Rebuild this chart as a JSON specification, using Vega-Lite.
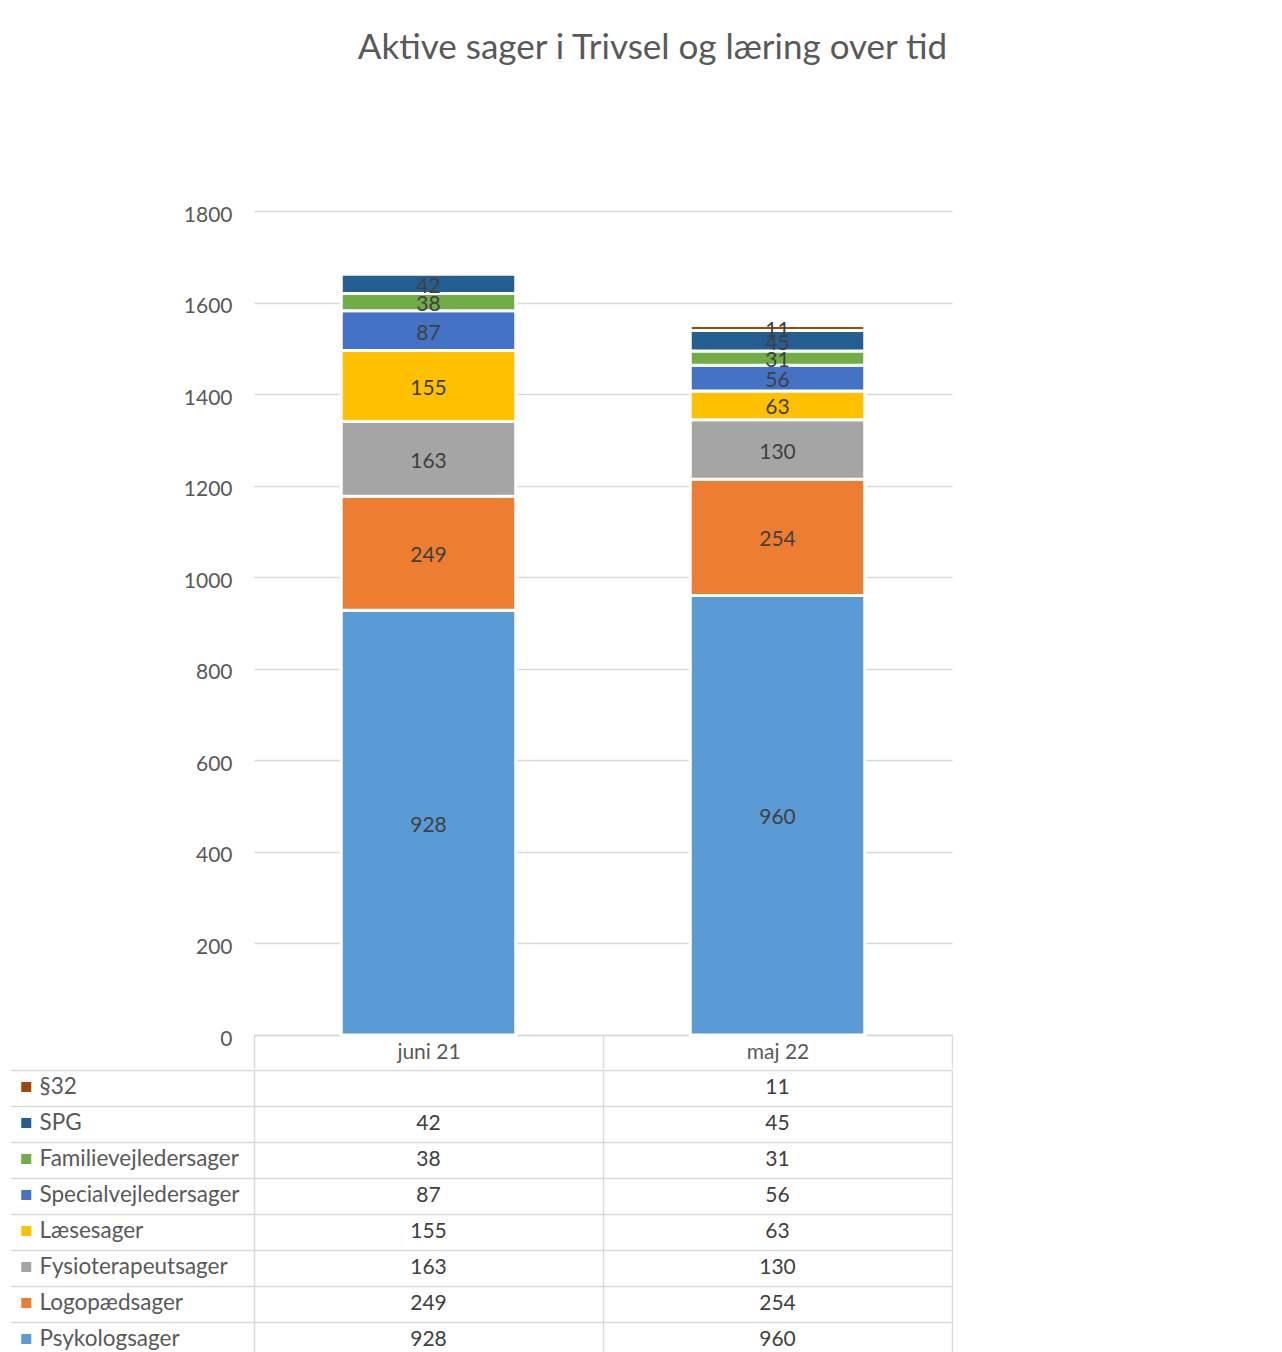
{
  "$schema": "https://vega.github.io/schema/vega-lite/v6.json",
  "padding": {"left": 10, "top": 31, "right": 0, "bottom": 0},
  "background": "white",
  "config": {
    "font": "Lato",
    "view": {"stroke": null},
    "concat": {"spacing": 0}
  },
  "title": {
    "text": "Aktive sager i Trivsel og læring over tid",
    "fontSize": 35,
    "fontWeight": "normal",
    "color": "#595959",
    "anchor": "middle",
    "dx": 171,
    "offset": 138
  },
  "datasets": {
    "cases": [
      {"period": "juni 21", "series": "Psykologsager", "count": 928},
      {"period": "juni 21", "series": "Logopædsager", "count": 249},
      {"period": "juni 21", "series": "Fysioterapeutsager", "count": 163},
      {"period": "juni 21", "series": "Læsesager", "count": 155},
      {"period": "juni 21", "series": "Specialvejledersager", "count": 87},
      {"period": "juni 21", "series": "Familievejledersager", "count": 38},
      {"period": "juni 21", "series": "SPG", "count": 42},
      {"period": "maj 22", "series": "Psykologsager", "count": 960},
      {"period": "maj 22", "series": "Logopædsager", "count": 254},
      {"period": "maj 22", "series": "Fysioterapeutsager", "count": 130},
      {"period": "maj 22", "series": "Læsesager", "count": 63},
      {"period": "maj 22", "series": "Specialvejledersager", "count": 56},
      {"period": "maj 22", "series": "Familievejledersager", "count": 31},
      {"period": "maj 22", "series": "SPG", "count": 45},
      {"period": "maj 22", "series": "§32", "count": 11}
    ]
  },
  "vconcat": [
    {
      "width": 698,
      "height": 824,
      "data": {"name": "cases"},
      "transform": [
        {
          "calculate": "indexof(['Psykologsager','Logopædsager','Fysioterapeutsager','Læsesager','Specialvejledersager','Familievejledersager','SPG','§32'], datum.series)",
          "as": "rank"
        }
      ],
      "encoding": {
        "x": {
          "field": "period",
          "type": "nominal",
          "sort": ["juni 21", "maj 22"],
          "scale": {"paddingInner": 0, "paddingOuter": 0},
          "axis": {
            "title": null,
            "labelAngle": 0,
            "labelFontSize": 21,
            "labelColor": "#595959",
            "labelPadding": -27,
            "domainColor": "#d9d9d9",
            "domainWidth": 1.5,
            "tickColor": "#d9d9d9",
            "tickWidth": 1.5,
            "tickSize": 33,
            "tickBand": "extent",
            "grid": false
          }
        },
        "y": {
          "field": "count",
          "type": "quantitative",
          "stack": "zero",
          "scale": {"domain": [0, 1800], "nice": false},
          "axis": {
            "title": null,
            "values": [0, 200, 400, 600, 800, 1000, 1200, 1400, 1600, 1800],
            "format": "d",
            "labelFontSize": 21,
            "labelColor": "#595959",
            "labelPadding": 22,
            "labelOffset": 4,
            "ticks": false,
            "domain": false,
            "gridColor": "#d9d9d9",
            "gridWidth": 1.5
          }
        },
        "order": {"field": "rank", "type": "quantitative"}
      },
      "layer": [
        {
          "mark": {"type": "bar", "width": {"band": 0.5}, "stroke": "white", "strokeWidth": 3},
          "encoding": {
            "color": {
              "field": "series",
              "type": "nominal",
              "scale": {
                "domain": ["§32", "SPG", "Familievejledersager", "Specialvejledersager", "Læsesager", "Fysioterapeutsager", "Logopædsager", "Psykologsager"],
                "range": ["#9E480E", "#255E91", "#70AD47", "#4472C4", "#FFC000", "#A5A5A5", "#ED7D31", "#5B9BD5"]
              },
              "legend": {
                "orient": "none",
                "legendX": -239,
                "legendY": 858,
                "title": null,
                "symbolType": "square",
                "symbolSize": 100,
                "symbolStrokeWidth": 0,
                "labelFontSize": 22.5,
                "labelColor": "#595959",
                "labelOffset": 2,
                "labelLimit": 300,
                "clipHeight": 36,
                "rowPadding": 0,
                "padding": 0
              }
            }
          }
        },
        {
          "mark": {"type": "text", "fontSize": 21, "color": "#404040", "dy": 3},
          "encoding": {
            "y": {"field": "count", "type": "quantitative", "stack": "zero", "bandPosition": 0.5},
            "detail": {"field": "series"},
            "text": {"field": "count", "type": "quantitative"}
          }
        }
      ]
    },
    {
      "width": 698,
      "height": 288,
      "data": {"name": "cases"},
      "mark": {"type": "text", "fontSize": 21, "color": "#404040"},
      "encoding": {
        "x": {
          "field": "period",
          "type": "nominal",
          "sort": ["juni 21", "maj 22"],
          "scale": {"paddingInner": 0, "paddingOuter": 0},
          "axis": {
            "orient": "top",
            "title": null,
            "labels": false,
            "ticks": false,
            "domain": false,
            "grid": true,
            "gridColor": "#d9d9d9",
            "gridWidth": 1.5,
            "tickBand": "extent"
          }
        },
        "y": {
          "field": "series",
          "type": "nominal",
          "sort": ["§32", "SPG", "Familievejledersager", "Specialvejledersager", "Læsesager", "Fysioterapeutsager", "Logopædsager", "Psykologsager"],
          "scale": {"paddingInner": 0, "paddingOuter": 0},
          "axis": {
            "title": null,
            "labels": false,
            "ticks": true,
            "tickSize": 243,
            "tickColor": "#d9d9d9",
            "tickWidth": 1.5,
            "tickBand": "extent",
            "domain": false,
            "grid": true,
            "gridColor": "#d9d9d9",
            "gridWidth": 1.5
          }
        },
        "text": {"field": "count", "type": "quantitative"}
      }
    }
  ]
}
